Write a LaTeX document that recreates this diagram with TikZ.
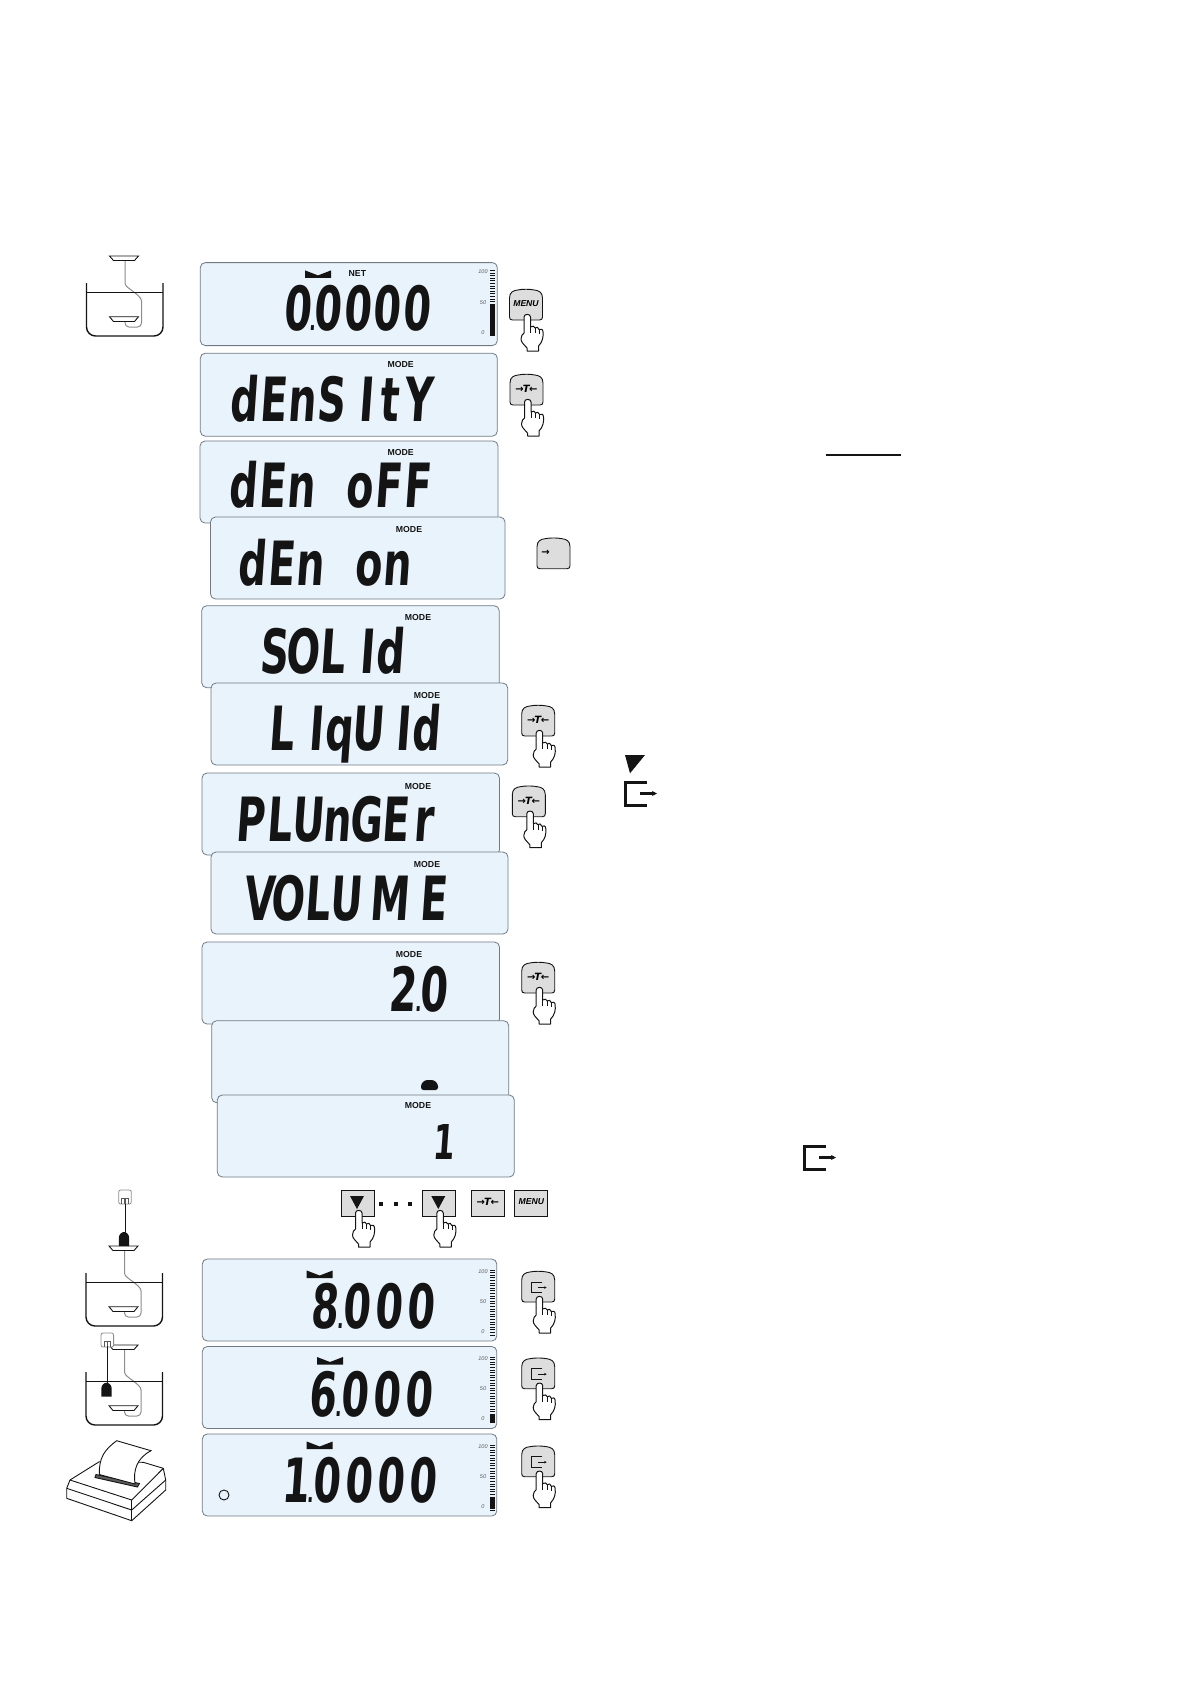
\documentclass[tikz,border=0pt]{standalone}
\usepackage{fontspec}
\setmainfont{Liberation Sans}
\newfontfamily\lcdfont[FakeStretch=0.65,FakeSlant=0.07]{DejaVu Sans}
\newfontfamily\symfont{DejaVu Sans}
\usepackage{xcolor}
\definecolor{lcdblue}{HTML}{E9F3FC}
\definecolor{lcdedge}{HTML}{6F7A84}
\definecolor{keygray}{HTML}{DDDDDD}
\definecolor{ink}{HTML}{141414}
\definecolor{stem}{HTML}{8C8C8C}
\usetikzlibrary{arrows.meta,positioning}
\newlength{\lcdpitch}
\def\lcdI{I}
\def\lcdone{1}
\def\lcdpt{.}
\makeatletter
\newcommand{\lcdword}[2][29pt]{\setlength{\lcdpitch}{#1}%
  \@tfor\lcdc:=#2\do{%
    \ifx\lcdc\lcdpt\makebox[0pt][c]{\fontsize{26}{26}\selectfont.}%
    \else\ifx\lcdc\lcdI\makebox[\lcdpitch][r]{\lcdc\kern1pt}%
    \else\ifx\lcdc\lcdone\makebox[\lcdpitch][r]{\lcdc\kern1pt}%
    \else\makebox[\lcdpitch][c]{\lcdc}\fi\fi\fi}}
\makeatother
\newcommand{\keyT}{{\symfont\bfseries\fontsize{10}{10}\selectfont →\kern-1pt\textit{T}\kern-1pt←}}
\newcommand{\keyMenu}{{\bfseries\itshape\fontsize{8.6}{8.6}\selectfont MENU}}
\tikzset{
  >=Stealth,
  lcd/.style={draw=lcdedge,line width=0.8pt,rounded corners=5pt,fill=lcdblue,anchor=north west,
              minimum height=82pt,outer sep=0pt,inner sep=0pt},
  lcdtxt/.style={font=\lcdfont\bfseries\fontsize{61}{61}\selectfont,text=ink,anchor=base west,inner sep=0pt},
  tag/.style={font=\bfseries\fontsize{8.7}{8.7}\selectfont,text=ink,inner sep=0pt},
  scalenum/.style={font=\itshape\fontsize{5.5}{5.5}\selectfont,text=ink!70,inner sep=0pt},
  keyline/.style={draw=ink,line width=0.9pt,fill=keygray},
  thin ink/.style={draw=ink,line width=0.9pt},
  beakerline/.style={draw=ink,line width=1.4pt},
  stemline/.style={draw=stem,line width=1pt},
  archkey/.pic={
    \path[keyline] (0,28) -- (0,9) .. controls (0,3) and (4,1.5) .. (8,1) .. controls (13,0) and (20,0) .. (25,1)
      .. controls (29,1.5) and (33,3) .. (33,9) -- (33,28) .. controls (33,30) and (32,31) .. (30,31)
      -- (3,31) .. controls (1,31) and (0,30) .. (0,28) -- cycle;
    \node[inner sep=0pt] (-label) at (16.5,15) {\tikzpictext};
  },
  flatkey/.pic={
    \path[keyline] (0,0) rectangle (33,26.7);
    \node[inner sep=0pt] (-label) at (16.5,11.5) {\tikzpictext};
  },
  outsign/.pic={
    \draw[ink,line width=1pt] (10.7,0) -- (0,0) -- (0,10.7) -- (10.7,10.7);
    \draw[ink,line width=.8pt,-{Stealth[length=2.5pt,width=2.5pt]}] (6,5.5) -- (15,5.5);
  },
  bigout/.pic={
    \draw[ink,line width=3pt] (22,0) -- (0,0) -- (0,23) -- (22,23);
    \draw[ink,line width=2.2pt,-{Stealth[length=5pt,width=5pt]}] (15,11.5) -- (32,11.5);
  },
  hand/.pic={
    \path[draw=ink,line width=1pt,fill=white,line join=round]
      (14.5,28) .. controls (14.5,24.5) and (21,24.5) .. (21,28) -- (21,38)
      .. controls (23,36.5) and (25,37) .. (25.5,39) .. controls (27,37.5) and (29,38) .. (29.5,40.5)
      .. controls (31,39.5) and (33.5,40) .. (33.5,43) .. controls (34,48) and (33,53) .. (29,57)
      -- (29,62) -- (17.5,62) -- (17.5,59) .. controls (14,55) and (11.5,53) .. (11.5,50)
      .. controls (11.5,47) and (13,45) .. (14.5,44) -- cycle;
    \draw[thin ink,line width=.6pt] (21,38) -- (21,44) (25.5,39) -- (25.5,44) (29.5,40.5) -- (29.5,45);
  },
  stablemark/.pic={
    \fill[ink] (0,0) -- (13,5) -- (26,0) -- (26,7.5) -- (0,7.5) -- cycle;
  },
  bargraph/.pic={
    \foreach \i in {0,...,25}
      \draw[ink,line width=1pt] (0,\i*2.6) -- (5,\i*2.6);
    \node[scalenum] (-top) at (-7,1.5) {100};
    \node[scalenum] (-mid) at (-7,32) {50};
    \node[scalenum] (-zero) at (-7,62) {0};
  },
  beaker/.pic={
    \draw[stemline,rounded corners=4pt] (38.5,-22.5) -- (38.5,-3) .. controls (39,5) and (55,12) .. (55,22)
      -- (55,44) -- (38.5,44) -- (38.5,38);
    \draw[beakerline,rounded corners=9pt] (0,0) -- (0,53) -- (76.5,53) -- (76.5,0);
    \draw[beakerline,line width=1.5pt] (0,9.5) -- (76.5,9.5);
    \path[thin ink,fill=white] (23,-27) -- (52,-27) -- (48,-22.5) -- (27,-22.5) -- cycle;
    \path[thin ink,fill=white] (23,33.7) -- (52,33.7) -- (48,38.5) -- (27,38.5) -- cycle;
  },
  plumb/.pic={
    \fill[ink] (-5.2,14) -- (-5.2,6) .. controls (-5.2,2) and (-2,0) .. (0,0) .. controls (2,0) and (5.2,2) .. (5.2,6) -- (5.2,14) -- cycle;
  },
  hook/.pic={
    \draw[stem,line width=.8pt,rounded corners=2pt,fill=white] (0,0) rectangle (12.6,14);
    \draw[ink!70,line width=.7pt] (3,13.5) -- (3,8.5) -- (6,8.5) -- (6,13.5) (6.6,13.5) -- (6.6,8.5) -- (9.6,8.5) -- (9.6,13.5);
  },
}
\begin{document}
\begin{tikzpicture}[x=1pt,y=-1pt]
  \useasboundingbox (0,0) rectangle (1191,1684);

  \node[lcd,minimum width=297pt,minimum height=83pt] (net) at (200.3,262.6) {};
  \node[lcd,minimum width=297pt,minimum height=83pt] (density) at (200.3,353.2) {};
  \node[lcd,minimum width=298pt] (denoff) at (200,441) {};
  \node[lcd,minimum width=294.5pt] (denon) at (210.5,517) {};
  \node[lcd,minimum width=297.5pt] (solid) at (201.7,605.7) {};
  \node[lcd,minimum width=296.7pt] (liquid) at (211,683) {};
  \node[lcd,minimum width=297.5pt] (plunger) at (202,773) {};
  \node[lcd,minimum width=297pt] (volume) at (211,852) {};
  \node[lcd,minimum width=297.5pt] (two) at (202,942) {};
  \node[lcd,minimum width=297pt] (blank) at (211.7,1020.7) {};
  \fill[ink,rounded corners=2.5pt] (421,1090) -- (421,1084) -- (425,1080) -- (434,1080) -- (438,1084) -- (438,1090) -- cycle;
  \node[lcd,minimum width=297pt] (one) at (217.3,1095) {};
  \node[lcd,minimum width=294.5pt] (eight) at (202.3,1259) {};
  \node[lcd,minimum width=294.5pt] (six) at (202.3,1346.5) {};
  \node[lcd,minimum width=294.5pt] (ten) at (202.3,1434) {};

  \node[lcdtxt] (nettxt) at (282.5,330.5) {\lcdword[29.7pt]{0.0000}};
  \node[lcdtxt] (densitytxt) at (229,421) {\lcdword{dEnSItY}};
  \node[lcdtxt] (denofftxt) at (228,507) {\lcdword{dEn~oFF}};
  \node[lcdtxt] (denontxt) at (237,585) {\lcdword{dEn~on}};
  \node[lcdtxt] (solidtxt) at (259,673) {\lcdword{SOLId}};
  \node[lcdtxt] (liquidtxt) at (266,750) {\lcdword{LIqUId}};
  \node[lcdtxt] (plungertxt) at (235,841) {\lcdword{PLUnGEr}};
  \node[lcdtxt] (volumetxt) at (244,920) {\lcdword{VOLU}\makebox[2\lcdpitch][c]{M}\lcdword{E}};
  \node[lcdtxt] (twotxt) at (387,1011) {\lcdword[31pt]{2.0}};
  \node[lcdtxt,font=\lcdfont\bfseries\fontsize{48}{48}\selectfont,anchor=base] (onetxt) at (443,1159) {1};
  \node[lcdtxt] (eighttxt) at (308,1328) {\lcdword[32pt]{8.000}};
  \node[lcdtxt] (sixtxt) at (306,1416) {\lcdword[32pt]{6.000}};
  \node[lcdtxt] (tentxt) at (278,1502) {\lcdword[32pt]{1.0000}};

  \node[tag] (nettag) at (357.4,273.8) {NET};
  \node[tag] (modea) at (400.7,364) {MODE};
  \node[tag] (modeb) at (400.7,452) {MODE};
  \node[tag] (modec) at (409,529) {MODE};
  \node[tag] (moded) at (418,617) {MODE};
  \node[tag] (modee) at (427,695) {MODE};
  \node[tag] (modef) at (418,786) {MODE};
  \node[tag] (modeg) at (427,864) {MODE};
  \node[tag] (modeh) at (409,954) {MODE};
  \node[tag] (modei) at (418,1105) {MODE};

  \pic at (305,270.4) {stablemark};
  \pic at (306.7,1270.5) {stablemark};
  \pic at (317,1357) {stablemark};
  \pic at (306.7,1441.5) {stablemark};

  \pic (bara) at (490,270.4) {bargraph};
  \fill[ink] (490,304) rectangle (495,336);
  \pic (barb) at (490,1270) {bargraph};
  \pic (barc) at (490,1357) {bargraph};
  \fill[ink] (490,1415) rectangle (495,1422);
  \pic (bard) at (490,1445) {bargraph};
  \fill[ink] (490,1497) rectangle (495,1509);

  \pic[pic text=\keyMenu] (menukey) at (509.5,289) {archkey};
  \pic at (509.5,289) {hand};
  \pic[pic text=\keyT] (tarea) at (510,374) {archkey};
  \pic at (510,374) {hand};
  \pic[pic text={\hspace{-16pt}{\symfont\bfseries\fontsize{10}{10}\selectfont →}}] (rightkey) at (537,537.7) {archkey};
  \pic[pic text=\keyT] (tareb) at (521.7,705) {archkey};
  \pic at (521.7,705) {hand};
  \pic[pic text=\keyT] (tarec) at (512.3,785.7) {archkey};
  \pic at (512.3,785.7) {hand};
  \pic[pic text=\keyT] (tared) at (521.7,962) {archkey};
  \pic at (521.7,962) {hand};

  \pic[pic text={\phantom{.}}] (outa) at (521.7,1271) {archkey};
  \pic at (531.7,1282) {outsign};
  \pic at (521.7,1271) {hand};
  \pic[pic text={\phantom{.}}] (outb) at (521.7,1357.7) {archkey};
  \pic at (531.7,1368.7) {outsign};
  \pic at (521.7,1357.7) {hand};
  \pic[pic text={\phantom{.}}] (outc) at (521.7,1445.7) {archkey};
  \pic at (531.7,1456.7) {outsign};
  \pic at (521.7,1445.7) {hand};

  \pic[pic text={\phantom{.}}] (downa) at (341,1190) {flatkey};
  \fill[ink] (350,1196) -- (364,1196) -- (357,1209) -- cycle;
  \pic at (341,1185) {hand};
  \pic[pic text={\phantom{.}}] (downb) at (422.3,1190) {flatkey};
  \fill[ink] (431.3,1196) -- (445.3,1196) -- (438.3,1209) -- cycle;
  \pic at (422.3,1185) {hand};
  \fill[ink] (379,1201.7) rectangle (383,1205.7);
  \fill[ink] (393.7,1201.7) rectangle (397.7,1205.7);
  \fill[ink] (408,1201.7) rectangle (412,1205.7);
  \pic[pic text=\keyT] (tareflat) at (471.3,1190) {flatkey};
  \pic[pic text=\keyMenu] (menuflat) at (514.8,1190) {flatkey};

  \fill[ink] (625,755) -- (645,755) -- (630,773.3) -- cycle;
  \pic at (625,782) {bigout};
  \pic at (804,1146) {bigout};
  \draw[ink,line width=2pt] (826,454.7) -- (900.7,454.7);

  \pic at (86.5,283) {beaker};
  \pic at (86,1273) {beaker};
  \pic at (86,1372) {beaker};

  \pic at (118.7,1190) {hook};
  \draw[ink,line width=.9pt] (125.3,1204) -- (125.3,1233);
  \pic at (124,1232) {plumb};
  \pic at (101,1333) {hook};
  \draw[ink,line width=.9pt] (107.3,1346) -- (107.3,1384);
  \pic at (106.5,1382.7) {plumb};

  \path[thin ink,fill=white,line join=round] (70,1480) -- (99.3,1461.7) -- (143.3,1462.3) -- (163.3,1468.3)
    -- (165.7,1480) -- (165.7,1490) -- (131.7,1520.7) -- (66.7,1498.3) -- (66.7,1488.3) -- cycle;
  \draw[thin ink] (70,1480) -- (131.7,1500) -- (163.3,1468.3);
  \draw[thin ink] (66.7,1488.3) -- (131.7,1510) -- (165.7,1480);
  \draw[thin ink] (131.7,1500) -- (131.7,1520.7);
  \path[thin ink,fill=ink!70] (96,1474.5) -- (139.5,1483.5) -- (137.5,1487) -- (95,1477.5) -- cycle;
  \path[thin ink,fill=white] (99.3,1474.5) .. controls (99,1458) and (104,1450) .. (116.7,1440.7)
    -- (151,1450.7) .. controls (137,1458) and (133,1470) .. (135,1484) -- cycle;

  \draw[ink,line width=.9pt] (224,1495) circle (5);
\end{tikzpicture}
\end{document}
